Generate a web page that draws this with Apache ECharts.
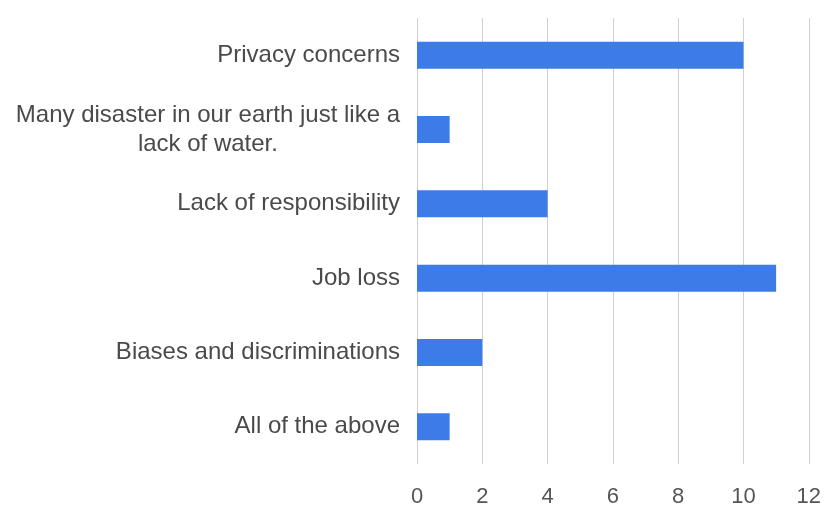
<!DOCTYPE html>
<html><head><meta charset="utf-8">
<script src="https://cdn.jsdelivr.net/npm/echarts@6/dist/echarts.min.js"></script>
<style>html,body{margin:0;padding:0;background:#fff}#c{width:824px;height:508px}</style>
</head><body><div id="c"></div>
<script>
const categories = ["Privacy concerns", "Many disaster in our earth just like a\nlack of water.", "Lack of responsibility", "Job loss", "Biases and discriminations", "All of the above"];
const values = [10, 1, 4, 11, 2, 1];
const xTicks = { min: 0, max: 12, interval: 2 };

const chart = echarts.init(document.getElementById('c'));
chart.setOption({
  animation: false,
  grid: { left: 417, right: 12, top: 18, bottom: 41, containLabel: false },
  xAxis: {
    type: 'value', min: xTicks.min, max: xTicks.max, interval: xTicks.interval,
    axisLine: { show: false }, axisTick: { show: false },
    splitLine: { lineStyle: { color: '#d0d0d0', width: 1 } },
    axisLabel: { color: '#555', fontSize: 22, fontFamily: 'Liberation Sans, Arial, sans-serif', margin: 22 }
  },
  yAxis: {
    type: 'category', data: categories, inverse: true,
    axisLine: { show: false }, axisTick: { show: false },
    axisLabel: {
      color: '#4a4a4a', fontSize: 24, fontFamily: 'Liberation Sans, Arial, sans-serif', margin: 17, lineHeight: 29,
      formatter: function (v) {
        if (v.indexOf('\n') >= 0) return v.split('\n').map(s => '{c|' + s + '}').join('\n');
        return v;
      },
      rich: { c: { align: 'center', color: '#4a4a4a', fontSize: 24, fontFamily: 'Liberation Sans, Arial, sans-serif', lineHeight: 29 } }
    }
  },
  series: [{
    type: 'bar', data: values, barWidth: 27,
    itemStyle: { color: '#3C7BE8' }
  }]
});
</script></body></html>
